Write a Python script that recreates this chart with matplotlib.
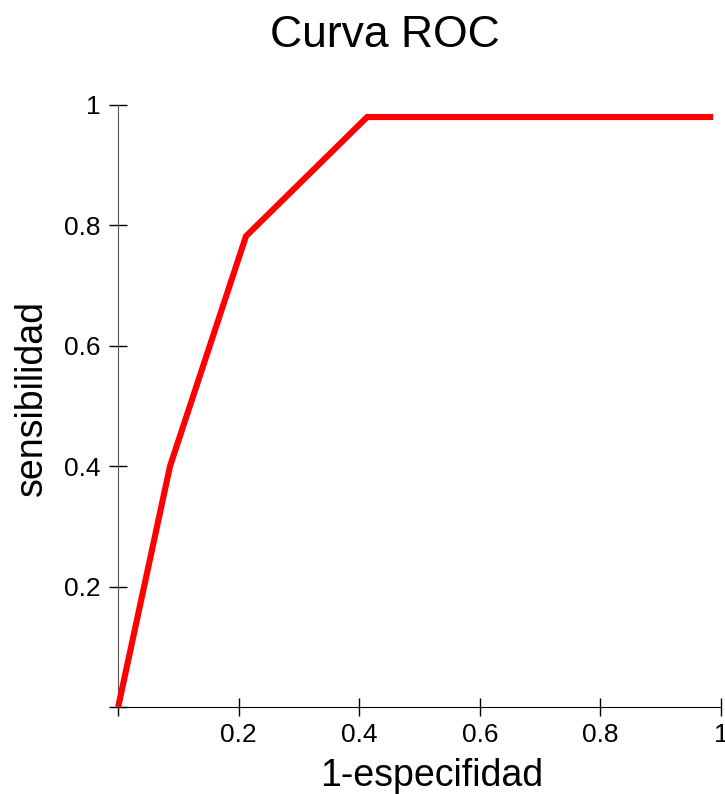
import matplotlib
matplotlib.use("Agg")
import matplotlib.pyplot as plt

# puntos de la curva ROC
fpr = [0.0, 0.086, 0.212, 0.413, 0.987]
tpr = [0.0, 0.40, 0.782, 0.98, 0.98]

x_ticks = [0.2, 0.4, 0.6, 0.8, 1.0]
x_labels = ["0.2", "0.4", "0.6", "0.8", "1"]
y_ticks = [0.2, 0.4, 0.6, 0.8, 1.0]
y_labels = ["0.2", "0.4", "0.6", "0.8", "1"]

plt.rcParams['font.family'] = ['Liberation Sans', 'DejaVu Sans']

W, H = 725, 794
fig = plt.figure(figsize=(W / 100, H / 100), dpi=100)
ax = fig.add_axes([0.163, 0.1096, 0.8315, 0.7582])

ax.plot(fpr, tpr, color="red", linewidth=4.4, solid_capstyle="butt",
        solid_joinstyle="miter", clip_on=False, zorder=3)

ax.set_xlim(0, 1)
ax.set_ylim(0, 1)
ax.set_xticks([0.0] + x_ticks)
ax.set_xticklabels([""] + x_labels)
ax.set_yticks([0.0] + y_ticks)
ax.set_yticklabels([""] + y_labels)

for s in ["top", "right"]:
    ax.spines[s].set_visible(False)
ax.spines["left"].set_color("#555555")
ax.spines["bottom"].set_color("black")

ax.tick_params(direction="inout", length=13, width=1, labelsize=19)
ax.tick_params(axis="y", pad=6)
ax.tick_params(axis="x", pad=5)

# titulo y etiquetas colocados en pixeles de la figura
fig.text(385 / W, 1 - 47 / H, "Curva ROC", fontsize=32,
         ha="center", va="baseline")
fig.text(432 / W, 1 - 786 / H, "1-especifidad", fontsize=27,
         ha="center", va="baseline")
fig.text(50 / W, 1 - 398 / H, "sensibilidad", fontsize=27,
         rotation=90, ha="right", va="center")

fig.savefig("out.png", dpi=100)
plt.close(fig)
